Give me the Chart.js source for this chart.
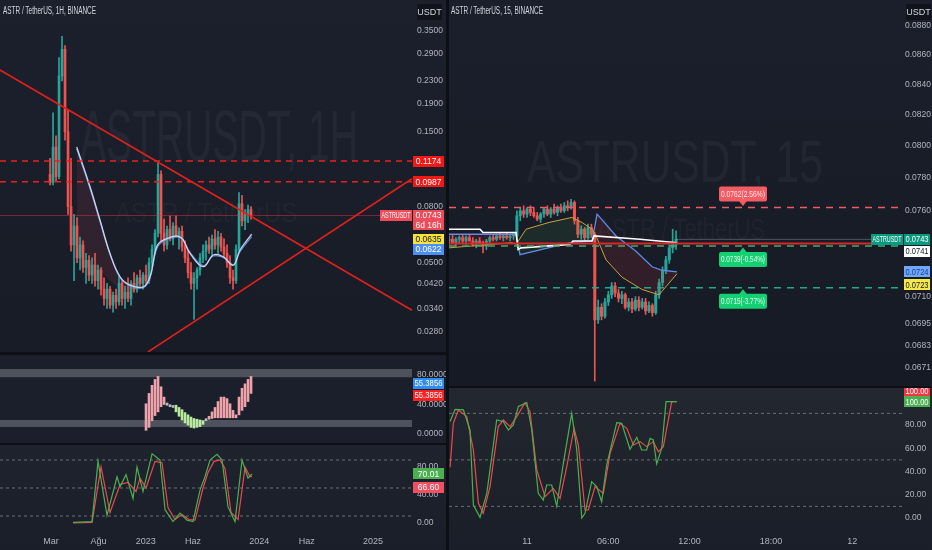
<!DOCTYPE html>
<html>
<head>
<meta charset="utf-8">
<title>ASTR / TetherUS</title>
<script src="https://cdn.jsdelivr.net/npm/chart.js@4.4.1/dist/chart.umd.min.js"></script>
<style>
  html, body { margin: 0; padding: 0; }
  body { width: 932px; height: 550px; background: #0d0f15; position: relative; overflow: hidden;
         font-family: 'Liberation Sans Narrow', 'Liberation Sans', Arial, sans-serif; }
  .pane { position: absolute; overflow: hidden; }
  .pane canvas { position: absolute; left: 0; top: 0; }
  .txt { position: absolute; white-space: nowrap; transform-origin: 0 0; line-height: 1; }
  .title { color: #d1d4dc; font-size: 10px; }
  .wm { color: rgba(255, 255, 255, 0.045); }
  .usdt { position: absolute; width: 25px; height: 16px; background: #10131a; color: #d1d4dc;
          font-size: 9px; text-align: center; line-height: 16px; border-radius: 2px; }
</style>
</head>
<body>

<div class="pane" style="left:0;top:0;width:446px;height:352px;background:linear-gradient(#1c202c,#181c27)">
  <div class="txt wm" data-w="278" style="left:80px;top:100px;font-size:72px">ASTRUSDT, 1H</div>
  <div class="txt wm" data-w="182" style="left:115px;top:200px;font-size:27px">ASTR / TetherUS</div>
  <canvas id="cL1" width="446" height="352"></canvas>
  <div class="txt title" data-w="93" style="left:3px;top:6px">ASTR / TetherUS, 1H, BINANCE</div>
  <div class="usdt" style="left:417px;top:4px">USDT</div>
</div>
<div class="pane" style="left:0;top:355px;width:446px;height:88px;background:#1b1f2b">
  <canvas id="cL2" width="446" height="88"></canvas>
</div>
<div class="pane" style="left:0;top:445px;width:446px;height:105px;background:linear-gradient(#1f232e,#1a1e29)">
  <canvas id="cL3" width="446" height="105"></canvas>
</div>

<div class="pane" style="left:449px;top:0;width:483px;height:386px;background:linear-gradient(#1b1f2b,#161a24)">
  <div class="txt wm" data-w="296" style="left:78px;top:132px;font-size:60px">ASTRUSDT, 15</div>
  <div class="txt wm" data-w="168" style="left:148px;top:214px;font-size:30px">ASTR / TetherUS</div>
  <canvas id="cR1" width="483" height="386"></canvas>
  <div class="txt title" data-w="92" style="left:2px;top:6px">ASTR / TetherUS, 15, BINANCE</div>
  <div class="usdt" style="left:457px;top:4px">USDT</div>
</div>
<div class="pane" style="left:449px;top:388px;width:483px;height:162px;background:linear-gradient(#23272f,#1a1e28)">
  <canvas id="cR2" width="483" height="162"></canvas>
</div>

<script>
// ---------- left chart: ASTR / TetherUS, 1H (zoomed out) ----------
// time axis in months from Jan 2022
const leftTimeTicks = [2, 7, 12, 17, 24, 29, 36];
const leftTimeLabels = ['Mar', 'Ağu', '2023', 'Haz', '2024', 'Haz', '2025'];
const leftPriceTicks = [0.35, 0.29, 0.23, 0.19, 0.15, 0.08, 0.05, 0.042, 0.034, 0.028];
const leftStart = 1.894, leftStep = 0.3168;

// [open, high, low, close]
const leftOHLC = [
  [0.105, 0.120, 0.096, 0.098], [0.098, 0.176, 0.096, 0.132], [0.132, 0.145, 0.099, 0.103],
  [0.103, 0.280, 0.101, 0.240], [0.240, 0.335, 0.230, 0.300], [0.300, 0.310, 0.140, 0.150],
  [0.150, 0.180, 0.075, 0.080], [0.080, 0.120, 0.055, 0.058], [0.058, 0.075, 0.043, 0.068],
  [0.068, 0.073, 0.050, 0.052], [0.052, 0.062, 0.047, 0.058], [0.058, 0.060, 0.046, 0.048],
  [0.048, 0.054, 0.042, 0.051], [0.051, 0.053, 0.043, 0.045], [0.045, 0.052, 0.042, 0.049],
  [0.049, 0.054, 0.041, 0.043], [0.043, 0.049, 0.040, 0.047], [0.047, 0.048, 0.038, 0.040],
  [0.040, 0.044, 0.035, 0.037], [0.037, 0.042, 0.034, 0.040], [0.040, 0.041, 0.034, 0.035],
  [0.035, 0.039, 0.033, 0.038], [0.038, 0.040, 0.034, 0.036], [0.036, 0.045, 0.035, 0.042],
  [0.042, 0.043, 0.035, 0.037], [0.037, 0.041, 0.034, 0.039], [0.039, 0.044, 0.036, 0.037],
  [0.037, 0.043, 0.035, 0.042], [0.042, 0.046, 0.039, 0.040], [0.040, 0.045, 0.039, 0.044],
  [0.044, 0.047, 0.041, 0.042], [0.042, 0.046, 0.040, 0.045], [0.045, 0.049, 0.042, 0.043],
  [0.043, 0.052, 0.042, 0.050], [0.050, 0.058, 0.048, 0.056], [0.056, 0.066, 0.054, 0.064],
  [0.064, 0.117, 0.062, 0.105], [0.105, 0.108, 0.060, 0.064], [0.064, 0.072, 0.055, 0.058],
  [0.058, 0.068, 0.056, 0.066], [0.066, 0.074, 0.060, 0.061], [0.061, 0.070, 0.058, 0.068],
  [0.068, 0.074, 0.062, 0.063], [0.063, 0.067, 0.056, 0.065], [0.065, 0.068, 0.055, 0.057],
  [0.057, 0.060, 0.050, 0.052], [0.052, 0.055, 0.044, 0.046], [0.046, 0.050, 0.040, 0.042],
  [0.042, 0.046, 0.031, 0.044], [0.044, 0.048, 0.040, 0.047], [0.047, 0.054, 0.045, 0.052],
  [0.052, 0.058, 0.050, 0.055], [0.055, 0.060, 0.051, 0.058], [0.058, 0.062, 0.054, 0.056],
  [0.056, 0.063, 0.053, 0.061], [0.061, 0.066, 0.056, 0.058], [0.058, 0.065, 0.054, 0.062],
  [0.062, 0.064, 0.055, 0.057], [0.057, 0.061, 0.052, 0.054], [0.054, 0.058, 0.048, 0.050],
  [0.050, 0.053, 0.042, 0.044], [0.044, 0.047, 0.040, 0.043], [0.043, 0.058, 0.042, 0.056],
  [0.056, 0.090, 0.055, 0.082], [0.082, 0.088, 0.068, 0.071], [0.071, 0.078, 0.066, 0.075],
  [0.075, 0.081, 0.070, 0.078], [0.078, 0.080, 0.072, 0.0743]
];

const leftMaT = [4.71, 6.12, 7.17, 8.23, 9.29, 10.34, 11.75, 12.45, 13.16, 13.86, 15.62, 16.68, 18.08, 19.14, 20.19, 21.25, 21.96, 23.19];
const leftMaA = [0.132, 0.0946, 0.0715, 0.054, 0.0444, 0.0414, 0.0408, 0.0444, 0.0571, 0.0604, 0.0621, 0.054, 0.0483, 0.0533, 0.0525, 0.0489, 0.0556, 0.0635];
const leftMaB = [0.130, 0.0930, 0.0705, 0.0535, 0.0440, 0.0411, 0.0405, 0.0438, 0.0560, 0.0598, 0.0617, 0.0545, 0.0488, 0.0528, 0.0522, 0.0492, 0.0548, 0.0622];
const leftFastT = [4.71, 6.12, 7.17, 8.23, 9.29, 10.34, 11.75];
const leftFast = [0.060, 0.052, 0.047, 0.043, 0.040, 0.039, 0.0408];

const leftLevels = [0.1174, 0.0987];
const leftDownT = [-3.39, 40.12], leftDownP = [0.2522, 0.0335];
const leftUpT = [12.24, 40.12], leftUpP = [0.0236, 0.1012];

// oscillator pane (starts at candle 32)
const leftOscFrom = 32;
const leftOsc = [41, 55, 66, 74, 78, 64, 50, 42, 38, 37, 30, 24, 19, 15, 12, 9, 8, 9, 10, 13,
                 19, 24, 30, 36, 44, 50, 50, 48, 41, 32, 26, 50, 62, 68, 74, 78];
const leftSig = [5, 9, 18, 25, 30, 37, 40, 39, 37, 36, 39, 36, 33, 29, 26, 23, 21, 20, 19, 18,
                 18, 20, 21, 22, 22, 22, 22, 22, 22, 22, 22, 26, 32, 37, 44, 55];
const leftOscValue = 55.3856;
const leftOscTicks = [0, 40, 80];
const leftBands = [[77, 88], [9.5, 19]];

// stoch RSI pane
const leftKT = [4.32, 6.33, 6.96, 7.91, 8.97, 9.29, 9.92, 10.66, 11.08, 11.71, 12.67, 13.51, 14.04, 14.88,
                15.62, 16.36, 16.99, 17.73, 18.26, 18.79, 19.53, 20.06, 20.69, 21.43, 22.17, 22.80, 23.22];
const leftK = [1, 2, 88, 11, 66, 52, 69, 35, 80, 45, 99, 90, 19, 2, 14, 4, 2, 47, 66, 90, 98, 90, 23, 2, 90, 64, 70.01];
const leftDT = [4.32, 6.33, 7.28, 8.23, 9.29, 10.13, 10.98, 11.40, 12.03, 12.98, 13.72, 14.35, 15.09,
                15.83, 16.57, 17.21, 18.05, 18.58, 19.21, 19.85, 20.37, 21.01, 21.75, 22.49, 23.01, 23.22];
const leftD = [0, 1, 80, 15, 55, 58, 45, 64, 50, 88, 86, 22, 5, 12, 5, 4, 50, 72, 88, 90, 78, 15, 5, 80, 66, 66.60];
const leftStochTicks = [0, 40, 80];
const stochLevels = [90, 50, 10];

// ---------- right chart: ASTR / TetherUS, 15 ----------
// time axis in hours from the 11th, 00:00
const rightTimeTicks = [0, 6, 12, 18, 24];
const rightTimeLabels = ['11', '06:00', '12:00', '18:00', '12'];
const rightPriceTicks = [0.088, 0.086, 0.084, 0.082, 0.080, 0.078, 0.076, 0.071, 0.0695, 0.0683, 0.0671];
const rightStart = -5.75, rightStep = 0.25;

const rightOHLC = [
  [0.0742, 0.0745, 0.0740, 0.0743], [0.0743, 0.0746, 0.0741, 0.0741], [0.0741, 0.0744, 0.0739, 0.0743],
  [0.0743, 0.0745, 0.0741, 0.0744], [0.0744, 0.0746, 0.0741, 0.0742], [0.0742, 0.0745, 0.0740, 0.0744],
  [0.0744, 0.0746, 0.0742, 0.0742], [0.0742, 0.0744, 0.0739, 0.0740], [0.0740, 0.0743, 0.0738, 0.0742],
  [0.0742, 0.0744, 0.0740, 0.0741], [0.0741, 0.0742, 0.0735, 0.0739], [0.0739, 0.0743, 0.0737, 0.0742],
  [0.0742, 0.0745, 0.0741, 0.0744], [0.0744, 0.0746, 0.0742, 0.0743], [0.0743, 0.0746, 0.0742, 0.0745],
  [0.0745, 0.0747, 0.0743, 0.0744], [0.0744, 0.0746, 0.0742, 0.0745], [0.0745, 0.0747, 0.0743, 0.0744],
  [0.0744, 0.0746, 0.0742, 0.0745], [0.0745, 0.0747, 0.0743, 0.0746], [0.0745, 0.0760, 0.0744, 0.0757],
  [0.0757, 0.0762, 0.0754, 0.0760], [0.0760, 0.0763, 0.0756, 0.0758], [0.0758, 0.0762, 0.0756, 0.0761],
  [0.0761, 0.0763, 0.0757, 0.0759], [0.0759, 0.0762, 0.0756, 0.0757], [0.0757, 0.0759, 0.0754, 0.0755],
  [0.0755, 0.0759, 0.0753, 0.0758], [0.0758, 0.0762, 0.0756, 0.0761], [0.0761, 0.0763, 0.0757, 0.0758],
  [0.0758, 0.0762, 0.0756, 0.0761], [0.0761, 0.0764, 0.0758, 0.0759], [0.0759, 0.0763, 0.0757, 0.0762],
  [0.0762, 0.0764, 0.0759, 0.0760], [0.0760, 0.0765, 0.0759, 0.0763], [0.0763, 0.0766, 0.0760, 0.0762],
  [0.0762, 0.0767, 0.0761, 0.0765], [0.0765, 0.0766, 0.0752, 0.0754], [0.0754, 0.0756, 0.0744, 0.0746],
  [0.0746, 0.0751, 0.0743, 0.0749], [0.0749, 0.0750, 0.0742, 0.0744], [0.0744, 0.0752, 0.0743, 0.0750],
  [0.0750, 0.0752, 0.0744, 0.0746], [0.0746, 0.0747, 0.0664, 0.0697], [0.0697, 0.0708, 0.0695, 0.0704],
  [0.0704, 0.0706, 0.0697, 0.0699], [0.0699, 0.0709, 0.0698, 0.0707], [0.0707, 0.0713, 0.0705, 0.0711],
  [0.0711, 0.0718, 0.0709, 0.0716], [0.0716, 0.0718, 0.0710, 0.0712], [0.0712, 0.0714, 0.0707, 0.0709],
  [0.0709, 0.0713, 0.0706, 0.0711], [0.0711, 0.0712, 0.0703, 0.0704], [0.0704, 0.0709, 0.0702, 0.0707],
  [0.0707, 0.0709, 0.0701, 0.0703], [0.0703, 0.0710, 0.0702, 0.0708], [0.0708, 0.0710, 0.0702, 0.0704],
  [0.0704, 0.0709, 0.0703, 0.0707], [0.0707, 0.0709, 0.0700, 0.0702], [0.0702, 0.0707, 0.0701, 0.0705],
  [0.0705, 0.0706, 0.0699, 0.0701], [0.0701, 0.0713, 0.0700, 0.0711], [0.0711, 0.0720, 0.0709, 0.0718],
  [0.0718, 0.0727, 0.0716, 0.0725], [0.0725, 0.0733, 0.0723, 0.0731], [0.0731, 0.0740, 0.0729, 0.0738],
  [0.0738, 0.0749, 0.0735, 0.0740], [0.0740, 0.0748, 0.0737, 0.0743]
];

const rightWhiteT = [-5.76, -3.47, -3.25, -0.81, -0.66, -0.44, 3.17, 3.39, 4.80, 4.94, 8.34, 11.07];
const rightWhite = [0.0749, 0.0749, 0.0747, 0.0747, 0.0737, 0.0738, 0.0740, 0.0742, 0.0742, 0.0745, 0.0743, 0.0741];
const rightBlueT = [-5.76, -0.81, -0.52, 3.17, 4.80, 5.17, 6.57, 8.04, 9.23, 9.96, 11.07];
const rightBlue = [0.0746, 0.0746, 0.0734, 0.0741, 0.0742, 0.0758, 0.0745, 0.0736, 0.0727, 0.0725, 0.0724];
const rightYellowT = [-5.76, -1.11, -0.81, -0.07, 1.62, 3.32, 4.06, 4.80, 5.09, 5.83, 7.01, 8.49, 9.74, 11.07];
const rightYellow = [0.0738, 0.0741, 0.0740, 0.0749, 0.0753, 0.0756, 0.0753, 0.0749, 0.0745, 0.0731, 0.0721, 0.0714, 0.0711, 0.0723];

const rightLevels = [0.0762, 0.0739, 0.0715];
const rightLevelText = ['0.0762(2.56%)', '0.0739(-0.54%)', '0.0715(-3.77%)'];
const rightRedLevel = 0.07405;

const rightKT = [-5.68, -5.31, -4.70, -4.21, -3.96, -3.47, -2.97, -2.24, -1.75, -1.38, -1.01, -0.64, -0.02, 0.35,
                 0.83, 1.20, 1.45, 1.82, 2.19, 2.68, 3.30, 3.67, 4.04, 4.28, 4.77, 5.14, 5.51, 5.88, 6.62,
                 6.99, 7.60, 8.10, 8.46, 8.83, 9.08, 9.32, 9.57, 9.94, 10.26, 10.80, 11.05];
const rightK = [83, 93.5, 93, 75.7, 11.2, 0.6, 21.2, 84.3, 82.9, 75.7, 80, 96, 99.2, 75.7, 21.2, 15.5, 28.4,
                28.4, 10.3, 47, 90, 58.5, 0, 4, 31.3, 27, 14, 45.6, 82, 81.4, 59.1, 69.4, 58.5, 58.5, 68.5,
                67.1, 46.5, 59.9, 100, 100, 100];
const rightDT = [-5.68, -5.44, -5.07, -4.45, -3.96, -3.59, -3.23, -2.73, -2.12, -1.75, -1.25, -0.76, -0.15,
                 0.22, 0.72, 1.33, 1.94, 2.44, 2.93, 3.47, 3.79, 4.28, 4.52, 5.02, 5.63, 6.13, 6.86, 7.36,
                 7.85, 8.34, 8.83, 9.32, 9.69, 10.06, 10.68, 11.05];
const rightD = [43.6, 81.4, 92.9, 87.2, 58.5, 12.6, 4, 27, 78.6, 84.3, 78.6, 87.2, 99.2, 91.5, 41.3, 18.4,
                25.5, 16.9, 44.2, 77.1, 62.8, 6.9, 6.9, 27, 21.2, 55.6, 81.4, 77.1, 62.8, 65.7, 61.4, 65.7,
                57.1, 61.4, 100, 100];
const rightStochTicks = [0, 20, 40, 60, 80];

// ---------- helpers ----------
const FONT = "'Liberation Sans Narrow', 'Liberation Sans', Arial, sans-serif";
Chart.defaults.font.family = FONT;
Chart.defaults.font.size = 9;
Chart.defaults.color = '#b2b5be';
const UP = '#26a69a', DOWN = '#ef5350';

const leftX = [-3.39, 40.12];
const rightX = [-5.76, 27.75];

function candles(ohlc, times, body, wick) {
  const col = ohlc.map(c => c[3] >= c[0] ? UP : DOWN);
  return [
    { type: 'bar', data: ohlc.map((c, i) => ({ x: times[i], y: [c[0], c[3]] })), backgroundColor: col,
      barThickness: body, minBarLength: 1, grouped: false, order: 10 },
    { type: 'bar', data: ohlc.map((c, i) => ({ x: times[i], y: [c[2], c[1]] })), backgroundColor: col,
      barThickness: wick, grouped: false, order: 11 }
  ];
}

function line(xs, ys, color, width, extra) {
  return Object.assign({
    type: 'line', data: xs.map((x, i) => ({ x: x, y: ys[i] })), borderColor: color, borderWidth: width,
    pointRadius: 0, fill: false, tension: 0, order: 2
  }, extra || {});
}

function hline(range, v, color, width, extra) {
  return line(range, [v, v], color, width, extra);
}

function xScale(range, show, ticks, labels) {
  const s = {
    type: 'linear', min: range[0], max: range[1], display: show, offset: false,
    grid: { display: false, drawTicks: false }, border: { display: false },
    afterBuildTicks: sc => { sc.ticks = ticks.map(v => ({ value: v })); },
    ticks: { autoSkip: false, maxRotation: 0, padding: 6, callback: v => labels[ticks.indexOf(v)] || '' }
  };
  if (show) s.afterFit = sc => { sc.height = 20; sc.paddingLeft = 0; sc.paddingRight = 0; };
  return s;
}

function yScale(type, min, max, ticks, dec, width, pad) {
  return {
    type: type, min: min, max: max, position: 'right', bounds: 'data',
    grid: { display: false, drawTicks: false }, border: { display: false },
    afterBuildTicks: s => { s.ticks = ticks.map(v => ({ value: v })); },
    // fixed axis width, and no room reserved for half labels above/below the pane
    afterFit: s => { s.width = width; s.paddingTop = 0; s.paddingBottom = 0; },
    ticks: { autoSkip: false, padding: pad, font: { size: 8.5 }, callback: v => Number(v).toFixed(dec) }
  };
}

function fitText(ctx, text, x, y, maxW) {
  const w = ctx.measureText(text).width;
  if (w <= maxW) { ctx.fillText(text, x, y); return; }
  ctx.save();
  ctx.translate(x, y);
  ctx.scale(maxW / w, 1);
  ctx.fillText(text, 0, 0);
  ctx.restore();
}

function box(ctx, x, yc, w, h, bg, fg, text) {
  ctx.fillStyle = bg;
  ctx.fillRect(x, Math.round(yc - h / 2), w, h);
  ctx.fillStyle = fg;
  fitText(ctx, text, x + w / 2, yc + 0.5, w - 3);
}

// price tags on the right axis
function badges(list) {
  return {
    id: 'badges',
    afterDraw(chart) {
      const ctx = chart.ctx, a = chart.chartArea, y = chart.scales.y;
      const w = chart.width - a.right - 3;
      ctx.save();
      ctx.font = '8.5px ' + FONT;
      ctx.textAlign = 'center';
      ctx.textBaseline = 'middle';
      list.forEach(b => {
        const yc = y.getPixelForValue(b.v) + (b.dy || 0);
        const fg = b.fg || '#ffffff';
        box(ctx, a.right + 1, yc, w, 11, b.bg, fg, b.text);
        if (b.tag) box(ctx, a.right - 32, yc, 32, 11, b.bg, fg, b.tag);
        if (b.sub) box(ctx, a.right + 1, yc + 10, w, 10, b.bg, fg, b.sub);
      });
      ctx.restore();
    }
  };
}

function base(datasets, scales, plugins) {
  return {
    type: 'bar',
    data: { datasets: datasets },
    options: {
      responsive: false, animation: false, events: [],
      layout: { padding: 0 },
      plugins: { legend: { display: false }, tooltip: { enabled: false } },
      scales: scales
    },
    plugins: plugins || []
  };
}

const f4 = v => v.toFixed(4);
const f2 = v => v.toFixed(2);
const last = a => a[a.length - 1];

// ---------- left main ----------
const leftT = leftOHLC.map((_, i) => leftStart + i * leftStep);
const leftClose = last(leftOHLC)[3];

new Chart(document.getElementById('cL1'), base([
  line(leftFastT, leftFast, 'rgba(0,0,0,0)', 0,
       { order: 20, fill: { target: 1, above: 'rgba(160,60,70,0.17)', below: 'rgba(160,60,70,0.17)' } }),
  line(leftMaT, leftMaA, '#cfd3e6', 1.3, { tension: 0.4, order: 3 }),
  line(leftMaT, leftMaB, '#5a90f0', 1.1, { tension: 0.4, order: 4 }),
  ...candles(leftOHLC, leftT, 2, 1),
  hline(leftX, leftClose, 'rgba(242,54,69,0.45)', 1, { order: 6 }),
  hline(leftX, leftLevels[0], '#e8231f', 1.5, { borderDash: [6, 5], order: 1 }),
  hline(leftX, leftLevels[1], '#e8231f', 1.5, { borderDash: [6, 5], order: 1 }),
  line(leftDownT, leftDownP, '#e0201c', 1.6, { order: 0 }),
  line(leftUpT, leftUpP, '#e0201c', 1.6, { order: 0 })
], {
  x: xScale(leftX, false, leftTimeTicks, leftTimeLabels),
  y: yScale('logarithmic', 0.02359, 0.4542, leftPriceTicks, 4, 34, 5)
}, [badges([
  { v: leftLevels[0], text: f4(leftLevels[0]), bg: '#f51616' },
  { v: leftLevels[1], text: f4(leftLevels[1]), bg: '#f51616' },
  { v: leftClose, text: f4(leftClose), bg: '#f04b58', tag: 'ASTRUSDT', sub: '6d 16h' },
  { v: last(leftMaA), text: f4(last(leftMaA)), bg: '#f5e23c', fg: '#131722', dy: 5 },
  { v: last(leftMaB), text: f4(last(leftMaB)), bg: '#4d8ff5', dy: 13 }
])]));

// ---------- left oscillator ----------
const oscT = leftOsc.map((_, i) => leftT[leftOscFrom + i]);
const oscCol = leftOsc.map((v, i) => Math.abs(v - leftSig[i]) <= 3 ? '#b8bcc6' : (v > leftSig[i] ? '#eea2aa' : '#b8eb9c'));

new Chart(document.getElementById('cL2'), base([
  { type: 'bar', data: leftOsc.map((v, i) => ({ x: oscT[i], y: [leftSig[i], v] })), backgroundColor: oscCol,
    barThickness: 2, minBarLength: 2, grouped: false, order: 2 },
  hline(leftX, leftBands[0][1], 'rgba(0,0,0,0)', 0, { order: 9, fill: { target: 2, above: 'rgba(140,144,156,0.45)', below: 'rgba(140,144,156,0.45)' } }),
  hline(leftX, leftBands[0][0], 'rgba(0,0,0,0)', 0, { order: 9 }),
  hline(leftX, leftBands[1][1], 'rgba(0,0,0,0)', 0, { order: 9, fill: { target: 4, above: 'rgba(140,144,156,0.45)', below: 'rgba(140,144,156,0.45)' } }),
  hline(leftX, leftBands[1][0], 'rgba(0,0,0,0)', 0, { order: 9 })
], {
  x: xScale(leftX, false, leftTimeTicks, leftTimeLabels),
  y: yScale('linear', -12.2, 107.1, leftOscTicks, 4, 34, 5)
}, [badges([
  { v: leftOscValue, text: f4(leftOscValue), bg: '#2f8cf0', dy: -10 },
  { v: leftOscValue, text: f4(leftOscValue), bg: '#ff1f1f', dy: 2 }
])]));

// ---------- left stoch ----------
const dash = 'rgba(170,174,186,0.55)';
new Chart(document.getElementById('cL3'), base([
  ...stochLevels.map(v => hline(leftX, v, dash, 1, { borderDash: [3, 3], order: 5 })),
  line(leftKT, leftK, '#4caf50', 1.2, { order: 1 }),
  line(leftDT, leftD, '#f0474f', 1.2, { order: 2 })
], {
  x: xScale(leftX, true, leftTimeTicks, leftTimeLabels),
  y: yScale('linear', -10, 111.4, leftStochTicks, 2, 34, 5)
}, [badges([
  { v: last(leftK), text: f2(last(leftK)), bg: '#4caf50' },
  { v: last(leftD), text: f2(last(leftD)), bg: '#f05060', dy: 11 }
])]));

// ---------- right main ----------
const rightT = rightOHLC.map((_, i) => rightStart + i * rightStep);
const rightClose = last(rightOHLC)[3];
const rightLabelAt = 15.94;

const levelLabels = {
  id: 'levelLabels',
  afterDatasetsDraw(chart) {
    const ctx = chart.ctx, x = chart.scales.x, y = chart.scales.y;
    const cx = x.getPixelForValue(rightLabelAt), w = 48, h = 15;
    ctx.save();
    ctx.font = '8.5px ' + FONT;
    ctx.textAlign = 'center';
    ctx.textBaseline = 'middle';
    rightLevels.forEach((v, i) => {
      const py = y.getPixelForValue(v);
      const up = i === 0;
      const top = up ? py - 6 - h : py + 6;
      ctx.fillStyle = up ? '#f45b63' : '#14d072';
      ctx.beginPath();
      ctx.roundRect(cx - w / 2, top, w, h, 2);
      ctx.fill();
      ctx.beginPath();
      if (up) { ctx.moveTo(cx - 4, py - 6.5); ctx.lineTo(cx + 4, py - 6.5); ctx.lineTo(cx, py - 1.5); }
      else { ctx.moveTo(cx - 4, py + 6.5); ctx.lineTo(cx + 4, py + 6.5); ctx.lineTo(cx, py + 1.5); }
      ctx.fill();
      ctx.fillStyle = up ? '#ffe6e6' : '#d9ffe9';
      fitText(ctx, rightLevelText[i], cx, top + h / 2 + 0.5, w - 4);
    });
    ctx.restore();
  }
};

new Chart(document.getElementById('cR1'), base([
  line(rightYellowT, rightYellow, '#c9a13c', 1, { order: 3, fill: { target: 1, above: 'rgba(76,175,80,0.10)', below: 'rgba(242,54,69,0.12)' } }),
  line(rightBlueT, rightBlue, '#5b8ff0', 1.3, { order: 3 }),
  line(rightWhiteT, rightWhite, '#ffffff', 1.6, { order: 2 }),
  ...candles(rightOHLC, rightT, 2.4, 1),
  hline([last(rightT), rightX[1]], rightClose, 'rgba(190,195,205,0.35)', 1, { order: 6 }),
  hline(rightX, rightRedLevel, '#d8262a', 2, { order: 1 }),
  hline(rightX, rightLevels[1], '#3fae6a', 1.5, { borderDash: [7, 6], order: 0 }),
  hline(rightX, rightLevels[0], '#ec5c68', 1.3, { borderDash: [7, 6], order: 0 }),
  hline(rightX, rightLevels[2], '#22a88e', 1.5, { borderDash: [7, 6], order: 0 })
], {
  x: xScale(rightX, false, rightTimeTicks, rightTimeLabels),
  y: yScale('logarithmic', 0.06614, 0.08983, rightPriceTicks, 4, 29, 2)
}, [levelLabels, badges([
  { v: rightClose, text: f4(rightClose), bg: '#089981', tag: 'ASTRUSDT' },
  { v: last(rightWhite), text: f4(last(rightWhite)), bg: '#ffffff', fg: '#131722', dy: 8.5 },
  { v: last(rightBlue), text: f4(last(rightBlue)), bg: '#6ea8f7', fg: '#1a3d8f' },
  { v: last(rightYellow), text: f4(last(rightYellow)), bg: '#f5e94a', fg: '#131722', dy: 11 }
])]));

// ---------- right stoch ----------
new Chart(document.getElementById('cR2'), base([
  ...stochLevels.map(v => hline(rightX, v, dash, 1, { borderDash: [3, 3], order: 5 })),
  line(rightKT, rightK, '#4caf50', 1.2, { order: 1 }),
  line(rightDT, rightD, '#f0474f', 1.2, { order: 2 })
], {
  x: xScale(rightX, true, rightTimeTicks, rightTimeLabels),
  y: yScale('linear', -10.3, 111.8, rightStochTicks, 2, 29, 2)
}, [badges([
  { v: last(rightK), text: f2(last(rightK)), bg: '#4caf50' },
  { v: last(rightD), text: f2(last(rightD)), bg: '#f23645', dy: -11 }
])]));

// squeeze the html captions to the widths seen in the picture
document.querySelectorAll('.txt[data-w]').forEach(el => {
  const w = el.getBoundingClientRect().width;
  el.style.transform = 'scaleX(' + (el.dataset.w / w) + ')';
});
</script>
</body>
</html>
